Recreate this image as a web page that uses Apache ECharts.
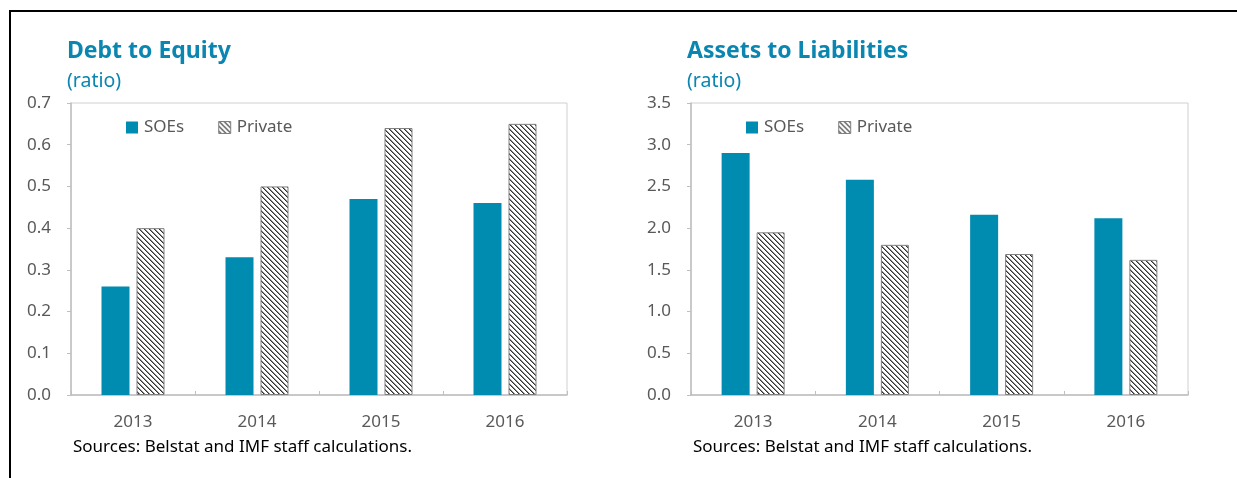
<!DOCTYPE html>
<html>
<head>
<meta charset="utf-8">
<script src="https://cdn.jsdelivr.net/npm/echarts@6/dist/echarts.min.js"></script>
<style>
html,body{margin:0;padding:0;background:#fff;}
#c{width:1237px;height:478px;}
</style>
</head>
<body>
<div id="c"></div>
<script>
// ---- data ----
const years = ['2013', '2014', '2015', '2016'];
const debtEquitySOE = [0.26, 0.33, 0.47, 0.46];
const debtEquityPrivate = [0.40, 0.50, 0.64, 0.65];
const assetsLiabSOE = [2.90, 2.58, 2.16, 2.12];
const assetsLiabPrivate = [1.95, 1.80, 1.69, 1.62];
const titles = ['Debt to Equity', 'Assets to Liabilities'];
const unitLabel = '(ratio)';
const sourceNote = 'Sources: Belstat and IMF staff calculations.';
const seriesNames = ['SOEs', 'Private'];

// ---- styles ----
const FONT = 'Noto Sans';
const TEAL = '#008bb0';
const TITLE_COLOR = '#0a86b1';
const AXIS_GRAY = '#bfbfbf';
const LABEL_GRAY = '#595959';

function makePattern() {
  const n = 5;
  const cv = document.createElement('canvas');
  cv.width = n; cv.height = n;
  const ctx = cv.getContext('2d');
  const img = ctx.createImageData(n, n);
  for (let y = 0; y < n; y++) {
    for (let x = 0; x < n; x++) {
      const k = ((x - y) % n + n) % n;
      let v = 255;
      if (k === 0) v = 50;
      else if (k === 1) v = 140;
      const i = (y * n + x) * 4;
      img.data[i] = v; img.data[i + 1] = v; img.data[i + 2] = v; img.data[i + 3] = 255;
    }
  }
  ctx.putImageData(img, 0, 0);
  return cv;
}
const patternFill = { image: makePattern(), repeat: 'repeat' };

const grids = [
  { left: 71, top: 103, width: 496, height: 292 },
  { left: 691, top: 103, width: 497, height: 292 }
];
const yMax = [0.7, 3.5];
const yInt = [0.1, 0.5];
const seriesData = [
  [debtEquitySOE, debtEquityPrivate],
  [assetsLiabSOE, assetsLiabPrivate]
];

const option = {
  animation: false,
  backgroundColor: '#fff',
  textStyle: { fontFamily: FONT },
  title: [],
  legend: [],
  grid: [],
  xAxis: [],
  yAxis: [],
  series: [],
  graphic: [
    { type: 'line', shape: { x1: 9, y1: 11, x2: 1237, y2: 11 }, style: { stroke: '#000', lineWidth: 2 } },
    { type: 'line', shape: { x1: 10, y1: 10, x2: 10, y2: 478 }, style: { stroke: '#000', lineWidth: 2 } }
  ]
};

[0, 1].forEach(function (g) {
  const gr = grids[g];
  option.grid.push({
    left: gr.left, top: gr.top, width: gr.width, height: gr.height,
    show: true, borderColor: '#d0d0d0', borderWidth: 1, backgroundColor: 'transparent'
  });
  option.title.push({
    text: titles[g],
    subtext: unitLabel,
    left: gr.left - 4, top: 40,
    itemGap: 8,
    padding: 0,
    textStyle: { fontFamily: FONT, fontSize: 23, fontWeight: 'bold', color: TITLE_COLOR },
    subtextStyle: { fontFamily: FONT, fontSize: 19.5, color: TITLE_COLOR }
  });
  option.title.push({
    text: sourceNote,
    left: gr.left + 2, top: 439,
    padding: 0,
    textStyle: { fontFamily: FONT, fontSize: 17, fontWeight: 'normal', color: '#000' }
  });
  option.legend.push({
    gridIndex: g,
    left: gr.left + 55, top: 119,
    padding: 0,
    itemWidth: 12, itemHeight: 12, itemGap: 34,
    icon: 'rect',
    textStyle: { fontFamily: FONT, fontSize: 17, color: LABEL_GRAY, padding: [0, 0, 0, 1] },
    data: [
      { name: seriesNames[0] + (g ? ' ' : ''), itemStyle: { color: TEAL, borderWidth: 0 } },
      { name: seriesNames[1] + (g ? ' ' : ''), itemStyle: { color: patternFill, borderColor: '#808080', borderWidth: 1 } }
    ],
    formatter: function (n) { return n.trim(); }
  });
  option.xAxis.push({
    type: 'category', gridIndex: g, data: years,
    axisLine: { show: true, lineStyle: { color: AXIS_GRAY, width: 1.5 } },
    axisTick: { show: true, inside: true, length: 4, lineStyle: { color: AXIS_GRAY } },
    axisLabel: { fontFamily: FONT, fontSize: 17, color: LABEL_GRAY, margin: 19 },
    splitLine: { show: false }
  });
  option.yAxis.push({
    type: 'value', gridIndex: g, min: 0, max: yMax[g], interval: yInt[g],
    axisLine: { show: true, lineStyle: { color: AXIS_GRAY, width: 1.5 } },
    axisTick: { show: true, inside: false, length: 4, lineStyle: { color: AXIS_GRAY } },
    axisLabel: { fontFamily: FONT, fontSize: 17, color: LABEL_GRAY, margin: 20,
      formatter: function (v) { return v.toFixed(1); } },
    splitLine: { show: false }
  });
  option.series.push({
    type: 'bar', name: seriesNames[0] + (g ? ' ' : ''),
    xAxisIndex: g, yAxisIndex: g,
    data: seriesData[g][0],
    barWidth: 28, barGap: '25%',
    itemStyle: { color: TEAL }
  });
  option.series.push({
    type: 'bar', name: seriesNames[1] + (g ? ' ' : ''),
    xAxisIndex: g, yAxisIndex: g,
    data: seriesData[g][1],
    barWidth: 28, barGap: '25%',
    itemStyle: { color: patternFill, borderColor: '#808080', borderWidth: 1 }
  });
});

const chart = echarts.init(document.getElementById('c'), null, { renderer: 'canvas' });
chart.setOption(option);
</script>
</body>
</html>
